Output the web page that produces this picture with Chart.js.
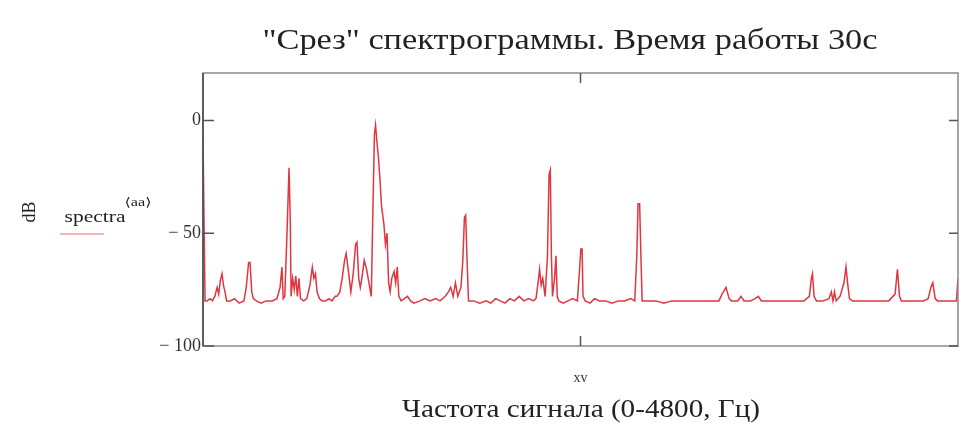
<!DOCTYPE html>
<html>
<head>
<meta charset="utf-8">
<script src="https://cdn.jsdelivr.net/npm/chart.js@4/dist/chart.umd.min.js"></script>
<style>
  html, body { margin: 0; padding: 0; background: #fff; }
  #wrap { width: 966px; height: 432px; }
</style>
</head>
<body>
<div id="wrap"><canvas id="chart" width="966" height="432"></canvas></div>
<script>
// частота, Гц (0-4800)
const freqs = [
  0, 13, 25, 45, 60, 75, 90, 100, 110, 121, 130, 140, 150, 175, 200, 230, 260, 275, 290, 299,
  310, 320, 340, 370, 400, 440, 470, 490, 502, 510, 520, 534, 547, 555, 560, 570, 580, 590, 600, 610,
  620, 640, 660, 680, 695, 705, 715, 725, 740, 757, 780, 800, 820, 840, 852, 870, 885, 900, 910, 925,
  940, 955, 970, 979, 990, 1000, 1010, 1025, 1040, 1055, 1070, 1080, 1090, 1097, 1105, 1115, 1125, 1135, 1150, 1160,
  1170, 1180, 1190, 1200, 1215, 1225, 1235, 1245, 1260, 1280, 1300, 1320, 1340, 1380, 1410, 1443, 1480, 1507, 1540, 1560,
  1575, 1590, 1605, 1620, 1640, 1652, 1662, 1670, 1678, 1688, 1720, 1760, 1800, 1830, 1860, 1890, 1920, 1950, 1980, 2010,
  2040, 2070, 2100, 2117, 2130, 2140, 2150, 2160, 2175, 2190, 2200, 2208, 2215, 2222, 2235, 2244, 2252, 2262, 2290, 2320,
  2350, 2380, 2395, 2402, 2410, 2416, 2430, 2460, 2490, 2520, 2560, 2600, 2640, 2680, 2720, 2745, 2758, 2766, 2776, 2784,
  2792, 2830, 2880, 2930, 2980, 3030, 3080, 3130, 3180, 3230, 3280, 3300, 3325, 3345, 3360, 3400, 3420, 3440, 3480, 3510,
  3530, 3550, 3600, 3650, 3700, 3760, 3820, 3855, 3868, 3875, 3885, 3900, 3940, 3980, 3995, 4005, 4015, 4025, 4050, 4075,
  4088, 4098, 4110, 4130, 4180, 4240, 4300, 4360, 4400, 4415, 4428, 4440, 4480, 4530, 4580, 4610, 4628, 4640, 4655, 4670,
  4720, 4770, 4790, 4800
];
// уровень, dB
const levels = [
  -8, -80, -80, -79, -80, -78, -74, -77, -71, -68, -73, -76, -80, -80, -79, -81, -80, -74, -63, -63,
  -76, -79, -80, -81, -80, -80, -79, -74, -65, -79, -78, -50, -21, -45, -78, -70, -75, -69, -78, -70,
  -79, -80, -79, -73, -65, -70, -68, -76, -79, -80, -80, -79, -80, -78, -78, -76, -70, -62, -59, -67,
  -76, -68, -55, -54, -70, -74, -70, -62, -66, -72, -78, -40, -6, -2, -9, -16, -26, -38, -46, -55,
  -50, -72, -76, -70, -67, -72, -65, -78, -80, -79, -78, -80, -81, -80, -79, -80, -79, -80, -78, -76,
  -74, -78, -72, -78, -74, -62, -43, -42, -60, -80, -80, -81, -80, -81, -79, -80, -81, -79, -80, -78,
  -80, -79, -80, -79, -72, -66, -73, -70, -78, -60, -24, -22, -60, -78, -70, -60, -78, -80, -81, -80,
  -79, -80, -65, -57, -57, -78, -80, -81, -79, -80, -80, -81, -80, -80, -79, -80, -60, -37, -37, -60,
  -80, -80, -80, -81, -80, -80, -80, -80, -80, -80, -80, -77, -74, -79, -80, -80, -78, -80, -80, -79,
  -78, -80, -80, -80, -80, -80, -80, -78, -70, -68, -78, -80, -80, -79, -76, -80, -76, -80, -78, -72,
  -65, -72, -79, -80, -80, -80, -80, -80, -77, -66, -78, -80, -80, -80, -80, -79, -74, -72, -79, -80,
  -80, -80, -80, -70
];
const yTicks = [0, -50, -100];
const xTicks = [2400];

const titleText = '"Срез" спектрограммы. Время работы 30с';
const xTitle = 'Частота сигнала (0-4800, Гц)';

const serif = '"Liberation Serif", "DejaVu Serif", serif';

// текст, растянутый по ширине (как в исходной картинке Mathcad)
function wideText(ctx, text, x, y, size, width) {
  ctx.save();
  ctx.font = size + 'px ' + serif;
  const w = ctx.measureText(text).width;
  const sx = width ? width / w : 1.15;
  ctx.translate(x, y);
  ctx.scale(sx, 1);
  ctx.textAlign = 'center';
  ctx.textBaseline = 'middle';
  ctx.fillText(text, 0, 0);
  ctx.restore();
}

// рамка, внутренние засечки и подписи в стиле Mathcad
const frame = {
  id: 'frame',
  afterDraw(chart) {
    const { ctx, chartArea: a, scales } = chart;
    ctx.save();
    ctx.strokeStyle = '#8a8a8a';
    ctx.lineWidth = 1.5;
    ctx.strokeRect(a.left, a.top, a.right - a.left, a.bottom - a.top);
    ctx.strokeStyle = '#444';
    ctx.beginPath();
    ctx.moveTo(a.left, a.top);
    ctx.lineTo(a.left, a.bottom);
    ctx.stroke();

    ctx.strokeStyle = '#555';
    yTicks.forEach(v => {
      const y = scales.y.getPixelForValue(v);
      ctx.beginPath();
      ctx.moveTo(a.left, y); ctx.lineTo(a.left + 11, y);
      ctx.moveTo(a.right, y); ctx.lineTo(a.right - 9, y);
      ctx.stroke();
    });
    xTicks.forEach(v => {
      const x = scales.x.getPixelForValue(v);
      ctx.beginPath();
      ctx.moveTo(x, a.top); ctx.lineTo(x, a.top + 10);
      ctx.moveTo(x, a.bottom); ctx.lineTo(x, a.bottom - 10);
      ctx.stroke();
    });

    ctx.fillStyle = '#222';
    wideText(ctx, titleText, 570, 41, 30, 615);
    wideText(ctx, xTitle, 581, 410, 25, 358);

    // легенда слева
    ctx.save();
    ctx.translate(30, 212);
    ctx.rotate(-Math.PI / 2);
    ctx.font = '18px ' + serif;
    ctx.textAlign = 'center';
    ctx.textBaseline = 'middle';
    ctx.fillText('dB', 0, 0);
    ctx.restore();

    wideText(ctx, 'spectra', 95, 218, 17, 61);
    wideText(ctx, '\u27E8aa\u27E9', 138, 203, 12, 27);

    ctx.strokeStyle = 'rgba(225,70,80,0.8)';
    ctx.lineWidth = 1;
    ctx.beginPath();
    ctx.moveTo(60, 234); ctx.lineTo(104, 234);
    ctx.stroke();
    ctx.restore();
  }
};

new Chart(document.getElementById('chart'), {
  type: 'line',
  data: {
    datasets: [{
      data: freqs.map((f, i) => ({ x: f, y: levels[i] })),
      borderColor: 'rgb(222,55,65)',
      borderWidth: 1.5,
      pointRadius: 0,
      tension: 0,
      fill: false
    }]
  },
  options: {
    responsive: false,
    animation: false,
    layout: { padding: { left: 0, right: 8, top: 73, bottom: 0 } },
    plugins: {
      legend: { display: false },
      tooltip: { enabled: false },
      title: { display: false }
    },
    scales: {
      x: {
        type: 'linear',
        min: 0,
        max: 4800,
        afterBuildTicks: s => { s.ticks = xTicks.map(v => ({ value: v })); },
        afterFit: s => { s.height = 86; },
        grid: { display: false, drawTicks: false },
        border: { display: false },
        ticks: {
          color: '#333',
          font: { family: serif, size: 14 },
          padding: 24,
          maxRotation: 0,
          callback: () => 'xv'
        },
        title: { display: false }
      },
      y: {
        min: -100,
        max: 21,
        afterBuildTicks: s => { s.ticks = yTicks.map(v => ({ value: v })); },
        afterFit: s => { s.width = 203; },
        grid: { display: false, drawTicks: false },
        border: { display: false },
        ticks: {
          color: '#333',
          font: { family: serif, size: 18 },
          padding: 2,
          callback: v => v < 0 ? '\u2212 ' + Math.abs(v) : String(v)
        }
      }
    }
  },
  plugins: [frame]
});
</script>
</body>
</html>
